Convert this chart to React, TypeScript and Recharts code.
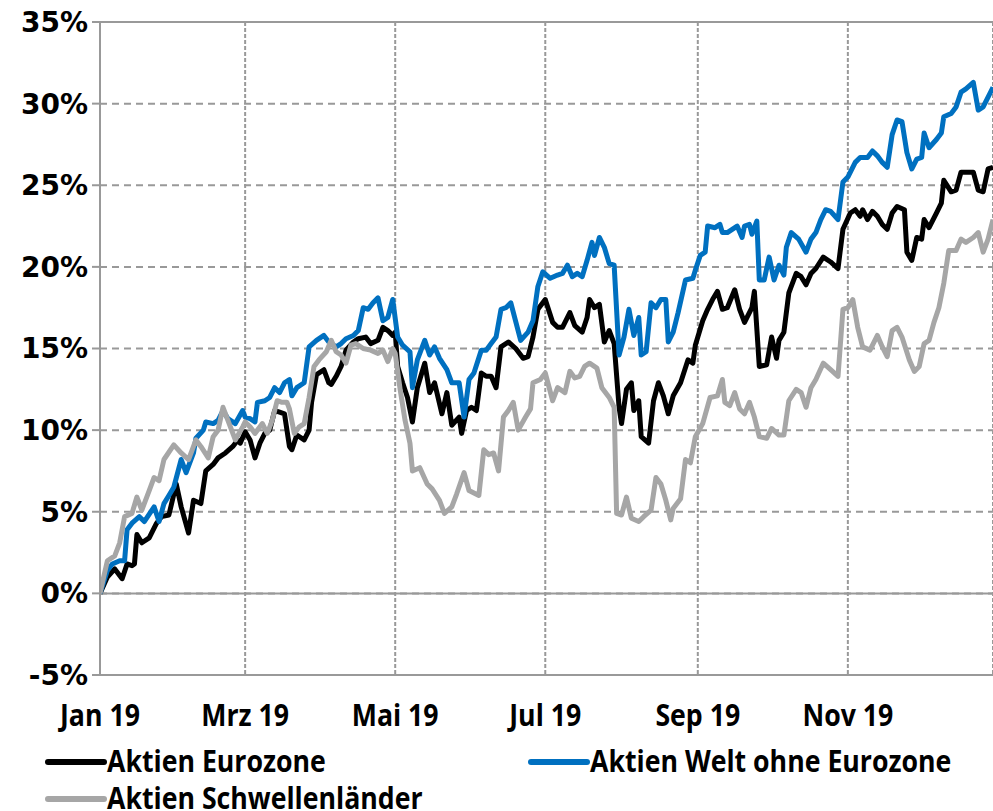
import React from "react";
import {
  CartesianGrid,
  Line,
  LineChart,
  ReferenceLine,
  XAxis,
  YAxis,
} from "recharts";

// x = day of year 2019 (0 = 1 Jan), values in percent
const monthTicks = [0, 59, 120, 181, 243, 304];
const monthLabels = ["Jan 19", "Mrz 19", "Mai 19", "Jul 19", "Sep 19", "Nov 19"];
const yTicks = [-5, 0, 5, 10, 15, 20, 25, 30, 35];

const euroDays = [
  0, 3, 6, 9, 11, 13, 14, 15, 17, 20, 23, 25, 28, 31, 33, 36, 38, 41, 43, 46, 48, 51, 54, 56,
  57, 59, 61, 63, 65, 67, 69, 71, 73, 75, 77, 78, 80, 83, 85, 86, 88, 91, 93, 94, 96, 98, 100,
  103, 105, 108, 110, 113, 115, 117, 119, 120, 121, 123, 125, 127, 129, 132, 134, 136, 139, 141,
  143, 146, 147, 149, 151, 153, 155, 157, 159, 161, 163, 166, 169, 172, 174, 176, 178, 181, 184,
  186, 188, 191, 193, 196, 198, 199, 201, 203, 205, 207, 209, 211, 212, 214, 216, 217, 219, 220,
  223, 225, 227, 229, 231, 233, 236, 239, 241, 242, 245, 247, 249, 251, 253, 255, 258, 260, 262,
  265, 266, 268, 271, 273, 275, 276, 278, 280, 281, 283, 285, 287, 289, 291, 294, 297, 300, 302,
  305, 307, 309, 310, 312, 314, 316, 318, 320, 322, 324, 327, 328, 330, 332, 334, 335, 337, 340,
  342, 343, 346, 348, 350, 352, 355, 357, 359, 361, 363,
];
const euroValues = [
  0, 1.0, 1.5, 0.9, 1.8, 1.7, 1.8, 3.6, 3.1, 3.4, 4.3, 4.7, 4.8, 6.7, 5.3, 3.7, 5.7, 5.5, 7.5, 7.9,
  8.3, 8.6, 9.0, 9.4, 9.2, 9.9, 9.4, 8.3, 9.2, 9.8, 10.0, 11.2, 11.1, 11.0, 9.0, 8.8, 9.7, 9.4,
  10.0, 11.7, 13.4, 13.7, 12.9, 12.8, 13.3, 13.9, 14.9, 15.4, 15.6, 15.7, 15.3, 15.5, 16.3, 16.1,
  15.8, 16.0, 13.9, 12.9, 12.0, 10.5, 12.6, 14.1, 12.3, 12.9, 11.0, 12.3, 10.3, 10.8, 9.8, 11.2,
  11.4, 11.2, 13.5, 13.3, 13.3, 12.6, 15.1, 15.4, 15.0, 14.4, 14.5, 15.7, 17.4, 18.0, 16.6, 16.3,
  16.3, 17.2, 16.4, 16.0, 16.9, 18.0, 17.5, 17.7, 15.4, 16.1, 15.3, 11.4, 10.4, 12.5, 12.9, 11.2,
  11.8, 9.6, 9.2, 11.8, 12.9, 12.1, 11.0, 12.1, 12.9, 14.3, 14.1, 15.2, 16.7, 17.4, 18.0, 18.5,
  17.4, 17.5, 18.6, 17.4, 16.6, 17.5, 18.5, 13.9, 14.0, 15.7, 14.4, 15.5, 16.0, 18.4, 18.8, 19.6,
  19.4, 18.9, 19.6, 19.9, 20.6, 20.3, 19.9, 22.3, 23.3, 23.5, 23.1, 23.5, 22.9, 23.4, 23.1, 22.6,
  22.3, 23.3, 23.7, 23.5, 20.9, 20.4, 21.8, 21.7, 22.9, 22.4, 23.3, 23.9, 25.3, 24.6, 24.7, 25.8,
  25.8, 25.8, 24.7, 24.6, 26.0, 26.1,
];

const worldDays = [
  0, 3, 5, 8, 10, 11, 13, 16, 18, 22, 24, 26, 28, 30, 33, 35, 38, 39, 42, 43, 46, 48, 50, 52, 55,
  58, 59, 61, 63, 64, 67, 69, 71, 73, 75, 77, 78, 80, 83, 85, 88, 91, 93, 96, 98, 100, 103, 105,
  107, 109, 111, 113, 115, 117, 119, 121, 123, 126, 127, 129, 132, 134, 136, 138, 141, 143, 146,
  148, 150, 152, 155, 157, 159, 161, 163, 165, 167, 171, 174, 176, 178, 180, 183, 186, 188, 190,
  192, 194, 196, 198, 200, 201, 203, 205, 207, 209, 211, 213, 215, 217, 219, 220, 222, 224, 226,
  228, 230, 231, 233, 235, 238, 241, 242, 244, 246, 247, 250, 252, 253, 255, 257, 259, 261, 262,
  264, 265, 267, 268, 270, 272, 274, 276, 278, 279, 281, 284, 287, 289, 291, 293, 295, 297, 300,
  302, 304, 307, 309, 312, 314, 316, 318, 320, 322, 324, 326, 328, 330, 332, 334, 335, 337, 340,
  342, 343, 346, 348, 350, 352, 355, 357, 359, 361, 363,
];
const worldValues = [
  0, 1.4, 1.8, 2.0, 2.0, 3.9, 4.3, 4.7, 4.4, 5.3, 4.4, 5.5, 6.0, 6.5, 8.2, 7.4, 8.6, 9.5, 10.0,
  10.5, 10.4, 10.6, 11.2, 10.7, 10.4, 11.2, 10.8, 10.7, 10.5, 11.7, 11.8, 12.0, 12.6, 12.3, 12.9,
  13.1, 12.1, 12.6, 12.9, 15.1, 15.5, 15.8, 15.4, 15.1, 15.3, 15.6, 15.8, 16.1, 17.5, 17.4, 17.8,
  18.1, 16.7, 16.9, 18.0, 15.7, 15.2, 14.8, 12.6, 14.3, 15.5, 14.6, 15.1, 14.4, 13.7, 12.9, 12.9,
  10.8, 13.1, 13.5, 14.9, 14.9, 15.3, 15.7, 17.4, 17.5, 17.8, 15.5, 16.0, 16.7, 18.8, 19.7, 19.3,
  19.5, 19.6, 20.1, 19.4, 19.6, 19.4, 20.4, 21.5, 20.7, 21.8, 21.2, 20.2, 20.1, 14.6, 15.7, 17.4,
  15.8, 16.9, 14.6, 14.8, 17.8, 17.5, 18.0, 18.0, 15.4, 16.0, 17.2, 19.2, 19.3, 19.8, 20.7, 20.9,
  22.5, 22.4, 22.6, 22.1, 22.1, 22.3, 22.5, 21.8, 22.5, 22.6, 22.0, 22.8, 19.2, 19.2, 20.6, 19.2,
  20.1, 19.5, 21.2, 22.1, 21.7, 20.9, 21.7, 22.1, 22.9, 23.5, 23.4, 22.9, 25.2, 25.5, 26.4, 26.7,
  26.7, 27.1, 26.8, 26.4, 26.1, 28.1, 29.0, 28.9, 27.0, 26.0, 26.6, 26.7, 28.2, 27.3, 27.8, 28.2,
  29.2, 29.4, 29.8, 30.7, 30.9, 31.3, 29.6, 29.8, 30.4, 31.0,
];

const emDays = [
  0, 3, 6, 8, 10, 13, 15, 17, 20, 22, 24, 26, 30, 33, 36, 39, 41, 44, 46, 48, 50, 52, 55, 58, 59,
  61, 63, 66, 68, 70, 72, 74, 76, 77, 79, 81, 83, 85, 87, 89, 92, 94, 96, 98, 100, 102, 104, 107,
  110, 113, 115, 117, 119, 120, 122, 124, 126, 127, 130, 133, 135, 138, 140, 143, 145, 148, 150,
  154, 156, 158, 160, 162, 164, 166, 168, 170, 173, 175, 176, 179, 181, 184, 186, 189, 191, 193,
  195, 197, 199, 202, 204, 207, 209, 210, 212, 214, 216, 219, 221, 224, 226, 228, 230, 232, 233,
  236, 238, 240, 242, 245, 248, 251, 253, 254, 256, 258, 260, 262, 264, 266, 268, 271, 273, 276,
  278, 280, 283, 285, 287, 289, 291, 294, 297, 300, 302, 304, 306, 308, 310, 313, 316, 318, 320,
  322, 324, 326, 329, 331, 333, 335, 337, 339, 341, 343, 345, 348, 350, 352, 355, 357, 359, 361,
  363,
];
const emValues = [
  0, 2.0, 2.3, 3.1, 4.7, 4.9, 5.9, 5.1, 6.3, 7.1, 6.9, 8.2, 9.1, 8.6, 8.2, 9.4, 9.0, 8.3, 9.6,
  10.0, 11.4, 10.6, 9.4, 10.2, 10.5, 10.2, 9.8, 10.4, 9.8, 10.6, 11.8, 11.7, 11.7, 11.3, 9.8, 10.2,
  10.4, 12.0, 13.9, 14.3, 14.8, 15.5, 14.8, 14.6, 14.1, 15.2, 15.3, 15.0, 14.9, 14.7, 14.9, 14.2,
  15.0, 14.7, 12.5, 10.6, 9.2, 7.5, 7.7, 6.7, 6.4, 5.7, 4.9, 5.3, 6.1, 7.4, 6.3, 6.0, 8.8, 8.5,
  8.6, 7.5, 10.8, 11.2, 11.7, 10.0, 10.8, 11.3, 12.9, 13.1, 13.5, 11.8, 12.6, 12.3, 13.6, 13.2,
  13.3, 13.9, 14.1, 13.8, 12.6, 12.0, 11.4, 4.9, 4.8, 5.9, 4.6, 4.4, 4.7, 5.1, 7.1, 6.7, 5.7, 4.5,
  5.2, 5.8, 8.2, 8.0, 9.6, 10.4, 12.0, 12.1, 13.1, 11.7, 11.5, 12.3, 11.3, 11.0, 11.7, 10.8, 9.6,
  9.5, 10.1, 9.7, 9.7, 11.8, 12.5, 12.3, 11.4, 12.6, 13.1, 14.1, 13.7, 13.3, 17.4, 17.5, 18.0, 16.3,
  15.1, 14.9, 15.8, 15.1, 14.5, 16.1, 16.3, 15.7, 14.3, 13.6, 13.9, 15.3, 15.5, 16.6, 17.5, 19.0,
  21.0, 21.0, 21.7, 21.5, 21.8, 22.1, 20.9, 21.7, 22.9,
];

const toPoints = (days: number[], values: number[]) =>
  days.map((d, i) => ({ d, v: values[i] }));

const series = [
  { name: "Aktien Eurozone", color: "#000000", data: toPoints(euroDays, euroValues) },
  { name: "Aktien Welt ohne Eurozone", color: "#0070C0", data: toPoints(worldDays, worldValues) },
  { name: "Aktien Schwellenländer", color: "#A6A6A6", data: toPoints(emDays, emValues) },
];

// Calibri-like look: Open Sans Bold squeezed horizontally
const labelFont = "'Open Sans', Arial, sans-serif";
const squeeze = 0.89;
const labelSize = 30;
const gridColor = "#999999";

function MonthTick({ x, y, payload }: any) {
  const label = monthLabels[monthTicks.indexOf(payload.value)];
  return (
    <text
      transform={`translate(${x},${y}) scale(${squeeze},1)`}
      textAnchor="middle"
      dy="0.71em"
      fontFamily={labelFont}
      fontWeight={700}
      fontSize={labelSize}
      fill="#000"
    >
      {label}
    </text>
  );
}

// legend slots (left x, centre y of the sample line)
const legendSlots = [
  { x: 48, y: 762 },
  { x: 531, y: 762 },
  { x: 48, y: 799 },
];

function ChartLegend() {
  return (
    <svg
      width={993}
      height={811}
      style={{ position: "absolute", left: 0, top: 0, pointerEvents: "none" }}
    >
      {series.map((s, i) => {
        const { x, y } = legendSlots[i];
        return (
          <g key={s.name}>
            <line x1={x} y1={y} x2={x + 56} y2={y} stroke={s.color} strokeWidth={6} strokeLinecap="round" />
            <text
              transform={`translate(${x + 59},${y + 10}) scale(${squeeze},1)`}
              fontFamily={labelFont}
              fontWeight={700}
              fontSize={labelSize}
              fill="#000"
            >
              {s.name}
            </text>
          </g>
        );
      })}
    </svg>
  );
}

export default function App() {
  return (
    <div style={{ position: "absolute", left: 0, top: 0, width: 993, height: 811, background: "#fff" }}>
      <LineChart width={993} height={811} margin={{ top: 22, right: 0, bottom: 0, left: 0 }}>
        <CartesianGrid vertical={false} stroke={gridColor} strokeWidth={2} strokeDasharray="7 5" />
        <CartesianGrid horizontal={false} stroke={gridColor} strokeWidth={2} strokeDasharray="4 2" />
        <XAxis
          type="number"
          dataKey="d"
          domain={[0, 363]}
          ticks={monthTicks}
          height={136}
          tickLine={false}
          tickSize={0}
          tickMargin={30}
          axisLine={{ stroke: gridColor, strokeWidth: 2 }}
          tick={<MonthTick />}
          allowDataOverflow
        />
        <YAxis
          type="number"
          domain={[-5, 35]}
          ticks={yTicks}
          width={100}
          tickFormatter={(v: number) => `${v}%`}
          tickSize={8}
          tickMargin={4}
          tickLine={{ stroke: gridColor, strokeWidth: 2 }}
          axisLine={{ stroke: gridColor, strokeWidth: 2 }}
          tick={{ fontFamily: "'DejaVu Sans', Verdana, sans-serif", fontWeight: 700, fontSize: 28, fill: "#000" }}
          allowDataOverflow
        />
        <ReferenceLine y={0} stroke={gridColor} strokeWidth={2} />
        <ReferenceLine y={35} stroke={gridColor} strokeWidth={2} />
        {series.map((s) => (
          <Line
            key={s.name}
            data={s.data}
            dataKey="v"
            name={s.name}
            type="linear"
            stroke={s.color}
            strokeWidth={5}
            strokeLinejoin="round"
            dot={false}
            activeDot={false}
            isAnimationActive={false}
          />
        ))}
      </LineChart>
      <ChartLegend />
    </div>
  );
}
